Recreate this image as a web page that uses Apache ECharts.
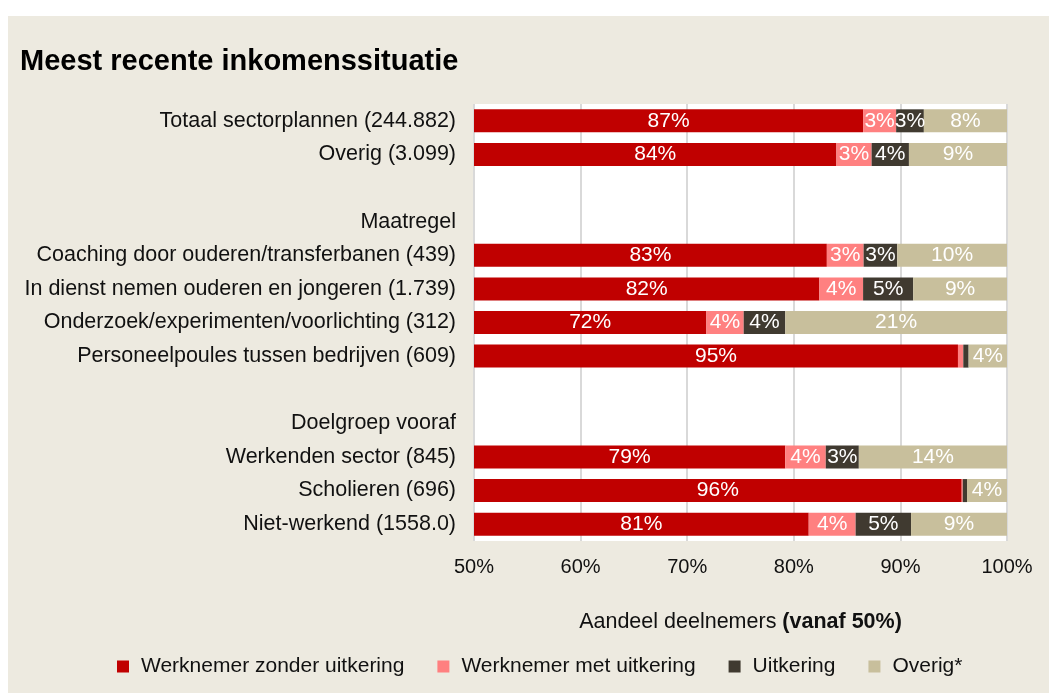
<!DOCTYPE html>
<html>
<head>
<meta charset="utf-8">
<script src="https://cdn.jsdelivr.net/npm/echarts@6/dist/echarts.min.js"></script>
<style>
  html, body { margin: 0; padding: 0; background: #fff; }
  #main { position: absolute; left: 8px; top: 16px; width: 1041px; height: 677px; }
</style>
</head>
<body>
<div id="main"></div>
<script>
// rijen (van boven naar beneden); lege labels = witregels, koppen zonder balk
const categories = [
  'Totaal sectorplannen (244.882)',
  'Overig (3.099)',
  '',
  'Maatregel',
  'Coaching door ouderen/transferbanen (439)',
  'In dienst nemen ouderen en jongeren (1.739)',
  'Onderzoek/experimenten/voorlichting (312)',
  'Personeelpoules tussen bedrijven (609)',
  ' ',
  'Doelgroep vooraf',
  'Werkenden sector (845)',
  'Scholieren (696)',
  'Niet-werkend (1558.0)'
];
const seriesNames = ['Werknemer zonder uitkering', 'Werknemer met uitkering', 'Uitkering', 'Overig*'];
const zonderUitkering = [86.5, 84.0, null, null, 83.1, 82.4, 71.8, 95.4, null, null, 79.2, 95.75, 81.4];
const metUitkering    = [3.1, 3.3, null, null, 3.45, 4.1, 3.5, 0.5, null, null, 3.8, 0.1, 4.4];
const uitkering       = [2.6, 3.5, null, null, 3.15, 4.7, 3.9, 0.5, null, null, 3.1, 0.4, 5.2];
const overig          = [7.8, 9.2, null, null, 10.3, 8.8, 20.8, 3.6, null, null, 13.9, 3.75, 9.0];
const xTicks = [50, 100, 10]; // min, max, interval

const colors = ['#c00000', '#ff8080', '#403a30', '#c8bf9c'];
const font = "'Liberation Sans', Arial, sans-serif";

const chart = echarts.init(document.getElementById('main'));

function makeSeries(name, data, color) {
  return {
    name: name,
    type: 'bar',
    stack: 'totaal',
    data: data,
    barWidth: 23,
    itemStyle: {color: color},
    label: {
      show: true,
      position: 'inside',
      color: '#fff',
      fontFamily: font,
      fontSize: 21,
      formatter: p => (p.value >= 1 ? Math.round(p.value) + '%' : '')
    }
  };
}

chart.setOption({
  backgroundColor: '#edeae0',
  animation: false,
  textStyle: {fontFamily: font},
  title: {
    text: 'Meest recente inkomenssituatie',
    left: 7,
    top: 26,
    textStyle: {fontFamily: font, fontSize: 29, fontWeight: 'bold', color: '#000'}
  },
  legend: {
    data: seriesNames,
    left: 104,
    top: 635,
    itemWidth: 12,
    itemHeight: 12,
    itemGap: 33,
    icon: 'rect',
    textStyle: {fontFamily: font, fontSize: 21, color: '#111', padding: [0, 0, 0, 7]}
  },
  grid: {
    left: 466,
    right: 42,
    top: 88,
    bottom: 152,
    show: true,
    backgroundColor: '#fff',
    borderWidth: 0,
    containLabel: false
  },
  xAxis: {
    type: 'value',
    min: xTicks[0],
    max: xTicks[1],
    interval: xTicks[2],
    axisLine: {show: false},
    axisTick: {show: false},
    splitLine: {show: true, lineStyle: {color: '#d9d9d9', width: 2}},
    axisLabel: {
      formatter: '{value}%',
      fontFamily: font,
      fontSize: 20,
      color: '#111',
      margin: 16
    },
    name: '{a|Aandeel deelnemers }{b|(vanaf 50%)}',
    nameLocation: 'middle',
    nameGap: 70,
    nameTextStyle: {
      rich: {
        a: {fontFamily: font, fontSize: 21.5, color: '#111'},
        b: {fontFamily: font, fontSize: 21.5, fontWeight: 'bold', color: '#111'}
      }
    }
  },
  yAxis: {
    type: 'category',
    data: categories,
    inverse: true,
    axisLine: {show: false},
    axisTick: {show: false},
    splitLine: {show: false},
    axisLabel: {
      fontFamily: font,
      fontSize: 21.5,
      color: '#111',
      margin: 18,
      interval: 0
    }
  },
  series: [
    makeSeries(seriesNames[0], zonderUitkering, colors[0]),
    makeSeries(seriesNames[1], metUitkering, colors[1]),
    makeSeries(seriesNames[2], uitkering, colors[2]),
    makeSeries(seriesNames[3], overig, colors[3])
  ]
});
</script>
</body>
</html>
